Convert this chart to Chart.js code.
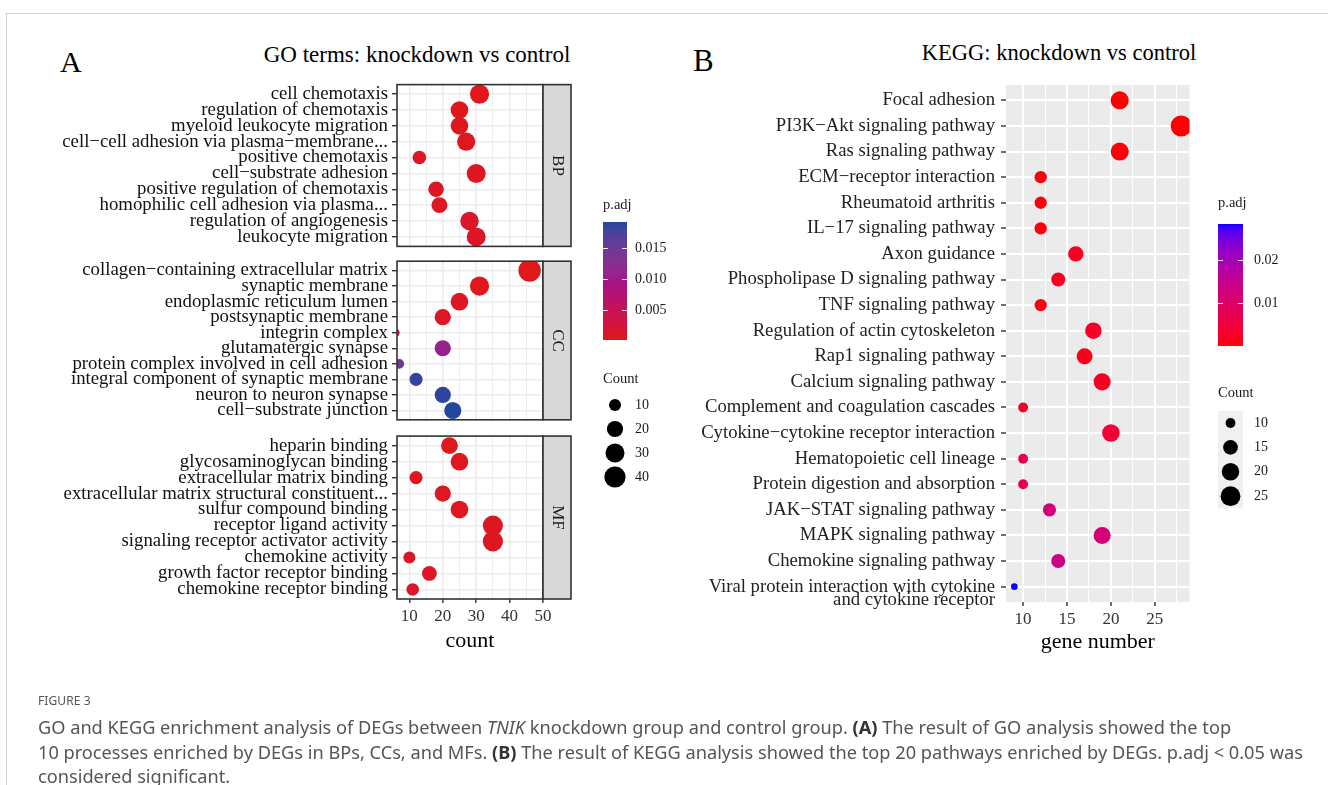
<!DOCTYPE html>
<html>
<head>
<meta charset="utf-8">
<script src="https://cdn.jsdelivr.net/npm/chart.js@4.4.1/dist/chart.umd.min.js"></script>
<style>
  body { margin: 0; background: #fff; width: 1328px; height: 785px; overflow: hidden; position: relative; }
  canvas { position: absolute; }
  .frame { position: absolute; left: 6px; top: 13px; width: 1322px; height: 772px; border-left: 1px solid #d3d3d3; border-top: 1px solid #d3d3d3; }
  .t { position: absolute; line-height: 1; white-space: nowrap; color: #000; font-family: "Liberation Serif", serif; }
  .cap { position: absolute; left: 38px; white-space: nowrap; font-family: "Noto Sans", sans-serif; color: #555; }
</style>
</head>
<body>
<div class="frame"></div>
<div class="t" style="left:60px; top:47px; font-size:30px;">A</div>
<div class="t" style="left:417px; top:42.5px; font-size:23px; transform:translateX(-50%);">GO terms: knockdown vs control</div>
<div class="t" style="left:693px; top:45px; font-size:31px;">B</div>
<div class="t" style="left:1059px; top:42px; font-size:22.5px; transform:translateX(-50%);">KEGG: knockdown vs control</div>

<canvas id="goBP" width="575" height="181" style="left:0; top:75px;"></canvas>
<canvas id="goCC" width="575" height="181" style="left:0; top:250px;"></canvas>
<canvas id="goMF" width="575" height="232" style="left:0; top:426px;"></canvas>
<canvas id="kegg" width="520" height="619" style="left:680px; top:40px;"></canvas>
<canvas id="legends" width="1328" height="785" style="left:0; top:0; pointer-events:none;"></canvas>

<div class="cap" style="top:693px; font-size:12px; line-height:16px; letter-spacing:0.1px;">FIGURE 3</div>
<div class="cap" style="top:715px; font-size:18.2px; line-height:24.5px;">
GO and KEGG enrichment analysis of DEGs between <i>TNIK</i> knockdown group and control group. <b style="color:#333">(A)</b> The result of GO analysis showed the top<br>
10 processes enriched by DEGs in BPs, CCs, and MFs. <b style="color:#333">(B)</b> The result of KEGG analysis showed the top 20 pathways enriched by DEGs. p.adj &lt; 0.05 was<br>
considered significant.
</div>

<script>
// ---- data ----
const goBPTerms = ['cell chemotaxis', 'regulation of chemotaxis', 'myeloid leukocyte migration',
  'cell−cell adhesion via plasma−membrane...', 'positive chemotaxis', 'cell−substrate adhesion',
  'positive regulation of chemotaxis', 'homophilic cell adhesion via plasma...',
  'regulation of angiogenesis', 'leukocyte migration'];
const goBPCount = [31, 25, 25, 27, 13, 30, 18, 19, 28, 30];
const goBPPadj = [0.0003, 0.0005, 0.0005, 0.0006, 0.0008, 0.0007, 0.0009, 0.0010, 0.0011, 0.0012];

const goCCTerms = ['collagen−containing extracellular matrix', 'synaptic membrane', 'endoplasmic reticulum lumen',
  'postsynaptic membrane', 'integrin complex', 'glutamatergic synapse',
  'protein complex involved in cell adhesion', 'integral component of synaptic membrane',
  'neuron to neuron synapse', 'cell−substrate junction'];
const goCCCount = [46, 31, 25, 20, 6, 20, 7, 12, 20, 23];
const goCCPadj = [0.0002, 0.0004, 0.0007, 0.0010, 0.0055, 0.0108, 0.0150, 0.0186, 0.0188, 0.0192];

const goMFTerms = ['heparin binding', 'glycosaminoglycan binding', 'extracellular matrix binding',
  'extracellular matrix structural constituent...', 'sulfur compound binding', 'receptor ligand activity',
  'signaling receptor activator activity', 'chemokine activity', 'growth factor receptor binding',
  'chemokine receptor binding'];
const goMFCount = [22, 25, 12, 20, 25, 35, 35, 10, 16, 11];
const goMFPadj = [0.0003, 0.0004, 0.0005, 0.0006, 0.0006, 0.0007, 0.0007, 0.0009, 0.0011, 0.0013];

const keggTerms = ['Focal adhesion', 'PI3K−Akt signaling pathway', 'Ras signaling pathway',
  'ECM−receptor interaction', 'Rheumatoid arthritis', 'IL−17 signaling pathway', 'Axon guidance',
  'Phospholipase D signaling pathway', 'TNF signaling pathway', 'Regulation of actin cytoskeleton',
  'Rap1 signaling pathway', 'Calcium signaling pathway', 'Complement and coagulation cascades',
  'Cytokine−cytokine receptor interaction', 'Hematopoietic cell lineage', 'Protein digestion and absorption',
  'JAK−STAT signaling pathway', 'MAPK signaling pathway', 'Chemokine signaling pathway',
  ['Viral protein interaction with cytokine', 'and cytokine receptor']];
const keggCount = [21, 28, 21, 12, 12, 12, 16, 14, 12, 18, 17, 19, 10, 20, 10, 10, 13, 19, 14, 9];
const keggPadj = [0.0004, 0.0002, 0.0005, 0.0006, 0.0008, 0.0009, 0.0024, 0.0022, 0.0012, 0.0028,
  0.0016, 0.0026, 0.0028, 0.0045, 0.0072, 0.0075, 0.0125, 0.0118, 0.0142, 0.0282];

const goXTicks = [10, 15, 20, 25, 30, 35, 40, 45, 50];
const goXRange = [6.3, 50];
const keggXTicks = [10, 12.5, 15, 17.5, 20, 22.5, 25, 27.5];
const goCountBreaks = [10, 20, 30, 40];
const keggCountBreaks = [10, 15, 20, 25];
const goPadjBreaks = [0.005, 0.010, 0.015];
const keggPadjBreaks = [0.01, 0.02];

// ---- helpers ----
const SERIF = '"Liberation Serif", "Times New Roman", serif';

function toLab(rgb) {
  const lin = c => { c /= 255; return c <= 0.04045 ? c / 12.92 : Math.pow((c + 0.055) / 1.055, 2.4); };
  const [R, G, B] = rgb.map(lin);
  const X = (0.4124 * R + 0.3576 * G + 0.1805 * B) / 0.95047;
  const Y = 0.2126 * R + 0.7152 * G + 0.0722 * B;
  const Z = (0.0193 * R + 0.1192 * G + 0.9505 * B) / 1.08883;
  const f = t => t > 0.008856 ? Math.cbrt(t) : 7.787 * t + 16 / 116;
  return [116 * f(Y) - 16, 500 * (f(X) - f(Y)), 200 * (f(Y) - f(Z))];
}
function fromLab([L, a, b]) {
  const fy = (L + 16) / 116, fx = fy + a / 500, fz = fy - b / 200;
  const inv = t => t * t * t > 0.008856 ? t * t * t : (t - 16 / 116) / 7.787;
  const X = inv(fx) * 0.95047, Y = inv(fy), Z = inv(fz) * 1.08883;
  const rgb = [3.2406 * X - 1.5372 * Y - 0.4986 * Z, -0.9689 * X + 1.8758 * Y + 0.0415 * Z, 0.0557 * X - 0.2040 * Y + 1.0570 * Z];
  return rgb.map(c => {
    c = c <= 0.0031308 ? 12.92 * c : 1.055 * Math.pow(c, 1 / 2.4) - 0.055;
    return Math.round(Math.min(1, Math.max(0, c)) * 255);
  });
}
// evenly spaced colour stops, interpolated in Lab
function gradient(stops, pmin, pmax) {
  const labs = stops.map(toLab);
  const n = labs.length - 1;
  return p => {
    const t = Math.min(1, Math.max(0, (p - pmin) / (pmax - pmin))) * n;
    const i = Math.min(n - 1, Math.floor(t)), f = t - i;
    return 'rgb(' + fromLab(labs[i].map((v, k) => v + (labs[i + 1][k] - v) * f)).join(',') + ')';
  };
}
function sizeScale(counts, rmin, rmax) {
  const cmin = Math.min(...counts), cmax = Math.max(...counts);
  return c => rmin + (rmax - rmin) * Math.sqrt(Math.max(0, c - cmin) / (cmax - cmin));
}

const goAllCount = goBPCount.concat(goCCCount, goMFCount);
const goAllPadj = goBPPadj.concat(goCCPadj, goMFPadj);
const goPmin = Math.min(...goAllPadj), goPmax = Math.max(...goAllPadj);
const goColor = gradient([[224, 24, 26], [162, 22, 138], [32, 70, 158]], goPmin, goPmax);
const goSize = sizeScale(goAllCount, 3.6, 11.2);

const kPmin = Math.min(...keggPadj), kPmax = Math.max(...keggPadj);
const keggColor = gradient([[255, 0, 0], [0, 0, 255]], kPmin, kPmax);
const keggSize = sizeScale(keggCount, 3.3, 10.5);

// ---- GO facets ----
function goFacet(id, terms, counts, padj, strip, showX) {
  const facetPlugin = {
    id: 'facet',
    afterDatasetsDraw(chart) {
      const { ctx, chartArea: a } = chart;
      ctx.save();
      ctx.lineWidth = 1.6;
      ctx.strokeStyle = '#333';
      ctx.strokeRect(a.left, a.top, a.right - a.left, a.bottom - a.top);
      ctx.fillStyle = '#D9D9D9';
      ctx.fillRect(a.right, a.top, 28, a.bottom - a.top);
      ctx.strokeRect(a.right, a.top, 28, a.bottom - a.top);
      ctx.translate(a.right + 14, (a.top + a.bottom) / 2);
      ctx.rotate(Math.PI / 2);
      ctx.fillStyle = '#1a1a1a';
      ctx.font = '17px ' + SERIF;
      ctx.textAlign = 'center';
      ctx.textBaseline = 'middle';
      ctx.fillText(strip, 0, 0);
      ctx.restore();
    }
  };
  return new Chart(document.getElementById(id), {
    type: 'bubble',
    data: {
      datasets: [{
        data: counts.map((c, i) => ({ x: c, y: i, r: goSize(c) })),
        backgroundColor: padj.map(goColor),
        borderWidth: 0,
        clip: 0
      }]
    },
    options: {
      responsive: false,
      animation: false,
      events: [],
      layout: { padding: { top: 8, bottom: showX ? 0 : 8, left: 0, right: 32 } },
      plugins: { legend: { display: false }, tooltip: { enabled: false } },
      scales: {
        x: {
          type: 'linear', min: goXRange[0], max: goXRange[1],
          afterBuildTicks: s => { s.ticks = goXTicks.map(v => ({ value: v })); },
          afterFit: s => { s.height = showX ? 59 : 0; s.paddingLeft = 0; s.paddingRight = 0; },
          border: { display: false },
          grid: {
            color: '#EBEBEB',
            lineWidth: c => (c.tick && c.tick.value % 10 === 0) ? 1.6 : 0.9,
            drawTicks: showX, tickLength: 4, tickWidth: 1.4,
            tickColor: c => (c.tick && c.tick.value % 10 === 0) ? '#333' : 'rgba(0,0,0,0)'
          },
          ticks: {
            display: showX, autoSkip: false, maxRotation: 0, padding: 3, color: '#333',
            font: { family: SERIF, size: 17 },
            callback: v => v % 10 === 0 ? v : ''
          },
          title: { display: showX, text: 'count', color: '#000', font: { family: SERIF, size: 22 }, padding: { top: 2, bottom: 4 } }
        },
        y: {
          type: 'linear', reverse: true, min: -0.6, max: terms.length - 0.4,
          afterBuildTicks: s => { s.ticks = terms.map((_, i) => ({ value: i })); },
          afterFit: s => { s.width = 397; s.paddingTop = 0; s.paddingBottom = 0; },
          border: { display: false },
          grid: { color: '#EBEBEB', lineWidth: 1.4, tickLength: 5, tickWidth: 1.4, tickColor: '#333' },
          ticks: {
            autoSkip: false, padding: 4, color: '#111',
            font: { family: SERIF, size: 18.8 },
            callback: v => terms[v]
          }
        }
      }
    },
    plugins: [facetPlugin]
  });
}

goFacet('goBP', goBPTerms, goBPCount, goBPPadj, 'BP', false);
goFacet('goCC', goCCTerms, goCCCount, goCCPadj, 'CC', false);
goFacet('goMF', goMFTerms, goMFCount, goMFPadj, 'MF', true);

// ---- KEGG ----
const kMin = Math.min(...keggCount), kMax = Math.max(...keggCount);
const kExp = (kMax - kMin) * 0.05;
new Chart(document.getElementById('kegg'), {
  type: 'bubble',
  data: {
    datasets: [{
      data: keggCount.map((c, i) => ({ x: c, y: i, r: keggSize(c) })),
      backgroundColor: keggPadj.map(keggColor),
      borderWidth: 0,
      clip: 0
    }]
  },
  options: {
    responsive: false,
    animation: false,
    events: [],
    layout: { padding: { top: 45, bottom: 0, left: 0, right: 5 } },
    plugins: { legend: { display: false }, tooltip: { enabled: false } },
    scales: {
      x: {
        type: 'linear', min: kMin - kExp, max: kMax + kExp,
        afterBuildTicks: s => { s.ticks = keggXTicks.map(v => ({ value: v })); },
        afterFit: s => { s.height = 57; s.paddingLeft = 0; s.paddingRight = 0; },
        border: { display: false },
        grid: {
          color: '#FFFFFF',
          lineWidth: c => (c.tick && c.tick.value % 5 === 0) ? 2 : 1,
          tickLength: 4, tickWidth: 1.4,
          tickColor: c => (c.tick && c.tick.value % 5 === 0) ? '#333' : 'rgba(0,0,0,0)'
        },
        ticks: {
          autoSkip: false, maxRotation: 0, padding: 3, color: '#333',
          font: { family: SERIF, size: 17 },
          callback: v => v % 5 === 0 ? v : ''
        },
        title: { display: true, text: 'gene number', color: '#000', font: { family: SERIF, size: 22 }, padding: { top: 2, bottom: 4 } }
      },
      y: {
        type: 'linear', reverse: true, min: -0.6, max: keggTerms.length - 0.4,
        afterBuildTicks: s => { s.ticks = keggTerms.map((_, i) => ({ value: i })); },
        afterFit: s => { s.width = 326; s.paddingTop = 0; s.paddingBottom = 0; },
        border: { display: false },
        grid: { color: '#FFFFFF', lineWidth: 2, tickLength: 5, tickWidth: 1.4, tickColor: '#333' },
        ticks: {
          autoSkip: false, padding: 6, color: '#222',
          font: { family: SERIF, size: 18.7, lineHeight: 0.72 },
          // two-line labels: first line sits on the tick, the second below it (as ggplot does)
          callback: v => Array.isArray(keggTerms[v]) ? [''].concat(keggTerms[v]) : keggTerms[v]
        }
      }
    }
  },
  plugins: [{
    id: 'panelBg',
    beforeDraw(chart) {
      const { ctx, chartArea: a } = chart;
      ctx.save();
      ctx.fillStyle = '#EBEBEB';
      ctx.fillRect(a.left, a.top, a.right - a.left, a.bottom - a.top);
      ctx.restore();
    }
  }]
});

// ---- legends ----
const lg = document.getElementById('legends').getContext('2d');
function colorbar(x, top, bottom, w, pmin, pmax, color, breaks, labelX, fmt) {
  const h = bottom - top;
  for (let y = 0; y < h; y++) {
    lg.fillStyle = color(pmax - (y + 0.5) / h * (pmax - pmin));
    lg.fillRect(x, top + y, w, 1);
  }
  lg.strokeStyle = '#fff';
  lg.lineWidth = 1;
  lg.fillStyle = '#1a1a1a';
  lg.font = '14px ' + SERIF;
  lg.textAlign = 'left';
  lg.textBaseline = 'middle';
  breaks.forEach(v => {
    const y = Math.round(bottom - (v - pmin) / (pmax - pmin) * h) + 0.5;
    lg.beginPath();
    lg.moveTo(x, y); lg.lineTo(x + w / 5, y);
    lg.moveTo(x + w - w / 5, y); lg.lineTo(x + w, y);
    lg.stroke();
    lg.fillText(fmt(v), labelX, y);
  });
}
function sizeKeys(cx, y0, pitch, breaks, size, labelX, bg) {
  if (bg) {
    lg.fillStyle = bg;
    lg.fillRect(cx - 12.5, y0 - pitch / 2, 25, pitch * breaks.length);
  }
  breaks.forEach((c, i) => {
    const y = y0 + i * pitch;
    lg.fillStyle = '#000';
    lg.beginPath();
    lg.arc(cx, y, size(c), 0, Math.PI * 2);
    lg.fill();
    lg.fillStyle = '#1a1a1a';
    lg.font = '14px ' + SERIF;
    lg.textBaseline = 'middle';
    lg.fillText(String(c), labelX, y);
  });
}
function legendTitle(text, x, y) {
  lg.fillStyle = '#1a1a1a';
  lg.font = '14.5px ' + SERIF;
  lg.textAlign = 'left';
  lg.textBaseline = 'middle';
  lg.fillText(text, x, y);
}

legendTitle('p.adj', 603, 205);
colorbar(603, 222, 340, 24, goPmin, goPmax, goColor, goPadjBreaks, 635, v => v.toFixed(3));
legendTitle('Count', 603, 379);
sizeKeys(615, 405, 24, goCountBreaks, goSize, 635, null);

legendTitle('p.adj', 1218, 203);
colorbar(1218, 224, 346, 25, kPmin, kPmax, keggColor, keggPadjBreaks, 1254, v => v.toFixed(2));
legendTitle('Count', 1218, 393);
sizeKeys(1230.5, 423, 24.4, keggCountBreaks, keggSize, 1254, '#F0F0F0');
</script>
</body>
</html>
